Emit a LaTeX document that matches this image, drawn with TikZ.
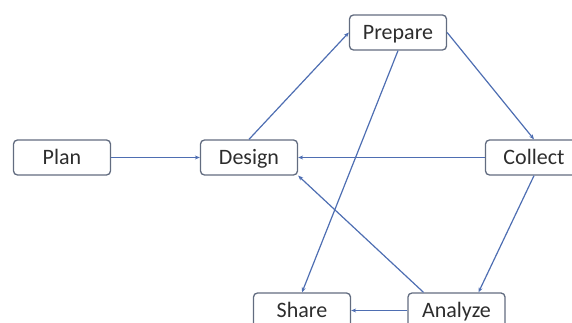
\documentclass[tikz,border=0pt]{standalone}
\usepackage{fontspec}
\setmainfont{Carlito}
\usepackage{tikz}
\usetikzlibrary{arrows.meta}

\definecolor{linkblue}{RGB}{78,110,178}
\definecolor{boxgray}{RGB}{98,108,128}
\definecolor{textgray}{RGB}{45,45,45}

\tikzset{
	stage/.style={draw=boxgray, line width=1.3pt, rounded corners=4pt, minimum width=97pt, minimum height=35pt, inner sep=0pt, text=textgray, text height=17pt, text depth=3pt, font=\fontsize{22}{26}\selectfont},
	link/.style={draw=linkblue, line width=1.2pt, -{Stealth[length=5pt, width=4pt]}}
}

\begin{document}
\begin{tikzpicture}[x=1pt, y=1pt]
			\clip (0,0) rectangle (572,323);
			
			% Stages
			\node[stage] (plan) at (62,165.5) {Plan};
			\node[stage] (design) at (249,165.5) {Design};
			\node[stage] (prepare) at (398,290.5) {Prepare};
			\node[stage] (collect) at (534,165.5) {Collect};
			\node[stage] (share) at (302,12.5) {Share};
			\node[stage] (analyze) at (456.5,12.5) {Analyze};
			
			% Links
			\draw[link] (plan) -- (design);
			\draw[link] (design.north) -- (prepare.west);
			\draw[link] (prepare.east) -- (collect.north);
			\draw[link] (collect) -- (design);
			\draw[link] (collect.south) -- ([xshift=22pt]analyze.north);
			\draw[link] ([xshift=-33pt]analyze.north) -- (design.south east);
			\draw[link] (prepare.south) -- (share.north);
			\draw[link] (analyze) -- (share);
		\end{tikzpicture}
\end{document}
